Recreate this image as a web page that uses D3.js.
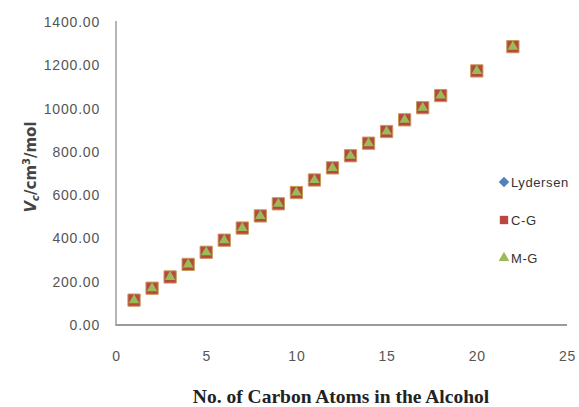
<!DOCTYPE html>
<html>
<head>
<meta charset="utf-8">
<script src="https://cdn.jsdelivr.net/npm/d3@7"></script>
<style>
  body { margin: 0; background: #fff; }
  svg { display: block; }
</style>
</head>
<body>
<svg id="chart" width="579" height="407"></svg>
<script>
// carbon atoms in the alcohol
const carbons = [1, 2, 3, 4, 5, 6, 7, 8, 9, 10, 11, 12, 13, 14, 15, 16, 17, 18, 20, 22];
// critical volume, cm3/mol (three methods overlap in the picture)
const lydersen = [115, 170, 222, 280, 336, 392, 448, 504, 560, 612, 670, 726, 782, 840, 894, 948, 1004, 1060, 1174, 1286];
const cg       = [115, 170, 222, 280, 336, 392, 448, 504, 560, 612, 670, 726, 782, 840, 894, 948, 1004, 1060, 1174, 1286];
const mg       = [115, 170, 222, 280, 336, 392, 448, 504, 560, 612, 670, 726, 782, 840, 894, 948, 1004, 1060, 1174, 1286];
const xTicks = [0, 5, 10, 15, 20, 25];
const yTicks = [0, 200, 400, 600, 800, 1000, 1200, 1400];

const series = [
  { name: 'Lydersen', values: lydersen, type: d3.symbolDiamond2, size: 90, color: '#4F81BD' },
  { name: 'C-G', values: cg, type: d3.symbolSquare, size: 150, color: '#B8473F' },
  { name: 'M-G', values: mg, type: d3.symbolTriangle, size: 48, color: '#9BBB59' }
];

const svg = d3.select('#chart');

const x = d3.scaleLinear().domain([0, 25]).range([116, 567]);
const y = d3.scaleLinear().domain([0, 1400]).range([325, 22]);

// axes lines
svg.append('line')
  .attr('x1', 116).attr('x2', 116)
  .attr('y1', 21).attr('y2', 326)
  .attr('stroke', '#b5b5b5').attr('stroke-width', 2);
svg.append('line')
  .attr('x1', 116).attr('x2', x(25))
  .attr('y1', 325).attr('y2', 325)
  .attr('stroke', '#9a9a9a').attr('stroke-width', 2);

// tick labels
const yAxis = d3.axisLeft(y).tickValues(yTicks).tickSize(0).tickPadding(16)
  .tickFormat(d3.format('.2f'));
const gy = svg.append('g').attr('transform', 'translate(116,0)').call(yAxis);
gy.select('.domain').remove();
gy.selectAll('text')
  .attr('font-family', 'Liberation Sans, Arial, sans-serif')
  .attr('font-size', 14).attr('letter-spacing', 0.8)
  .attr('fill', '#555');

const xAxis = d3.axisBottom(x).tickValues(xTicks).tickSize(0).tickPadding(26);
const gx = svg.append('g').attr('transform', 'translate(0,325)').call(xAxis);
gx.select('.domain').remove();
gx.selectAll('text')
  .attr('font-family', 'Liberation Sans, Arial, sans-serif')
  .attr('font-size', 14).attr('letter-spacing', 0.8)
  .attr('fill', '#555');

// markers
const symbol = d3.symbol();
series.forEach(s => {
  svg.append('g')
    .selectAll('path')
    .data(carbons.map((c, i) => ({ c: c, v: s.values[i] })))
    .join('path')
    .attr('d', symbol.type(s.type).size(s.size)())
    .attr('transform', d => 'translate(' + x(d.c) + ',' + y(d.v) + ')')
    .attr('fill', s.color)
    .attr('stroke', s.name === 'C-G' ? '#C99A5A' : 'none')
    .attr('stroke-width', 1);
});

// legend
const legend = svg.append('g').attr('transform', 'translate(504,182)');
series.forEach((s, i) => {
  const g = legend.append('g').attr('transform', 'translate(0,' + i * 38 + ')');
  g.append('path')
    .attr('d', d3.symbol().type(s.type).size(i === 2 ? 50 : 70)())
    .attr('fill', s.color);
  g.append('text')
    .attr('x', 7).attr('y', 4.5)
    .attr('font-family', 'Liberation Sans, Arial, sans-serif')
    .attr('font-size', 13).attr('letter-spacing', 0.6)
    .attr('fill', '#333')
    .text(s.name);
});

// axis titles
svg.append('text')
  .attr('x', 341).attr('y', 403)
  .attr('text-anchor', 'middle')
  .attr('font-family', 'Liberation Serif, Times New Roman, serif')
  .attr('font-weight', 'bold')
  .attr('font-size', 19.5)
  .attr('fill', '#222')
  .text('No. of Carbon Atoms in the Alcohol');

const yt = svg.append('text')
  .attr('transform', 'translate(36,167) rotate(-90)')
  .attr('text-anchor', 'middle')
  .attr('font-family', 'DejaVu Sans, sans-serif')
  .attr('font-weight', 'bold')
  .attr('font-size', 15)
  .attr('fill', '#444');
yt.append('tspan').attr('font-style', 'italic').text('V');
yt.append('tspan').attr('font-style', 'italic').attr('font-size', 10).attr('dy', 3).text('c');
yt.append('tspan').attr('dy', -3).text('/cm');
yt.append('tspan').attr('font-size', 10).attr('dy', -6).text('3');
yt.append('tspan').attr('dy', 6).text('/mol');
</script>
</body>
</html>
